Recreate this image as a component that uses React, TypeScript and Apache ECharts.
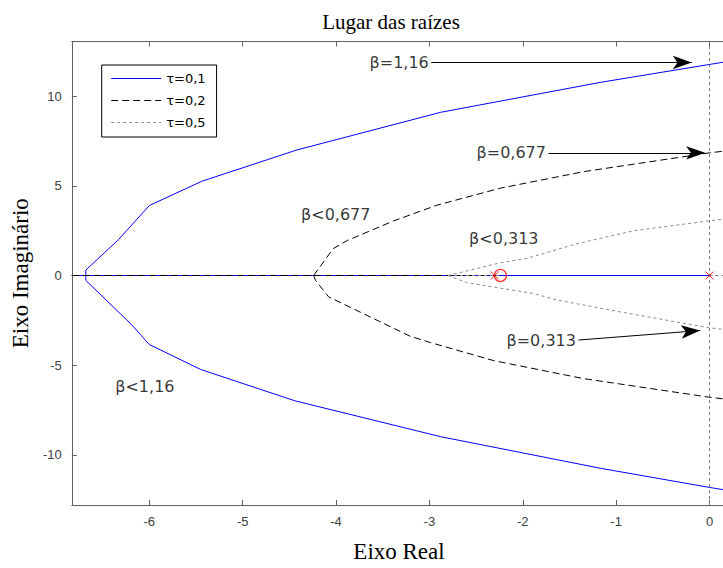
import React, { useEffect, useRef } from "react";
import * as echarts from "echarts";

// ---- data ----
const xTicks = [-6, -5, -4, -3, -2, -1, 0];
const yTicks = [-10, -5, 0, 5, 10];
const xRange = [-6.83, 0.5];
const yRange = [-12.8, 13.05];

const seriesNames = ["τ=0,1", "τ=0,2", "τ=0,5"];

// τ = 0,1 (blue, solid)
const tau1Real = [[-6.83, 0], [0, 0]];
const tau1Upper = [[-6.68, 0], [-6.68, 0.3], [-6.33, 2.0], [-6.0, 3.9], [-5.44, 5.25], [-4.42, 7.0], [-2.88, 9.1], [-1.17, 10.77], [0, 11.77], [0.5, 12.2]];
const tau1Lower = [[-6.68, 0], [-6.68, -0.27], [-6.19, -2.74], [-6.0, -3.85], [-5.45, -5.24], [-4.44, -6.99], [-2.88, -8.99], [-1.17, -10.75], [0, -11.82], [0.5, -12.25]];

// τ = 0,2 (black, dashed)
const tau2Real = [[-6.83, 0], [-2.25, 0]];
const tau2Upper = [[-4.24, 0], [-4.03, 1.5], [-3.88, 1.95], [-3.38, 3.05], [-2.92, 3.92], [-2.24, 4.87], [-1.35, 5.79], [0, 6.84], [0.5, 7.15]];
const tau2Lower = [[-4.24, 0], [-4.22, -0.27], [-4.08, -1.19], [-3.21, -3.38], [-2.99, -3.74], [-2.31, -4.75], [-1.35, -5.75], [0, -6.79], [0.5, -7.1]];

// τ = 0,5 (gray, dotted)
const tau5Real = [[-2.8, 0], [-2.25, 0]];
const tau5Upper = [[-2.8, 0], [-2.24, 0.71], [-1.96, 0.95], [-1.42, 1.77], [-0.81, 2.5], [0, 3.05], [0.5, 3.35]];
const tau5Lower = [[-2.8, 0], [-2.6, -0.4], [-1.89, -1.0], [-1.63, -1.37], [-0.99, -2.0], [0, -2.92], [0.5, -3.2]];

// reference lines through the origin
const zeroLineH = [[0, 0], [0.5, 0]];
const zeroLineV = [[0, -12.8], [0, 13.05]];

// poles (x) and zeros (o)
const poles = [[0, 0], [-2.3, 0]];
const zeros = [[-2.24, 0]];

// annotations
const arrowTexts = ["β=1,16", "β=0,677", "β=0,313"];
const arrowStarts = [[-2.98, 11.88], [-1.725, 6.84], [-1.404, -3.6]];
const arrowEnds = [[-0.19, 11.88], [-0.047, 6.84], [-0.1, -3.07]];
const freeTexts = ["β<0,677", "β<0,313", "β<1,16"];
const freePos = [[-4.38, 3.41], [-2.58, 2.04], [-6.37, -6.2]];

const COLORS = ["#0000ff", "#000000", "#8a8a8a"];
const DASHES: any[] = ["solid", [7, 4], [3, 3]];

function lineSeries(name: string, data: number[][], color: string, type: any, z: number) {
  return {
    type: "line",
    name,
    data,
    symbol: "none",
    showSymbol: false,
    silent: true,
    z,
    lineStyle: { color, width: 1, type },
    itemStyle: { color, opacity: 0 },
    clip: true,
  };
}

export default function App() {
  const ref = useRef<HTMLDivElement>(null);
  useEffect(() => {
    if (!ref.current) return;
    const chart = echarts.init(ref.current, undefined, { renderer: "svg" });
    const axisColor = "#606060";
    const labelFont = { fontFamily: "Liberation Sans", fontSize: 13, color: "#404040" };

    const groups = [
      [tau1Real, tau1Upper, tau1Lower],
      [tau2Real, tau2Upper, tau2Lower],
      [tau5Real, tau5Upper, tau5Lower],
    ];
    const curveSeries: any[] = [];
    groups.forEach((g, i) => {
      g.forEach((d) => curveSeries.push(lineSeries(seriesNames[i], d, COLORS[i], DASHES[i], 3 + i)));
    });

    const option: any = {
      animation: false,
      backgroundColor: "#ffffff",
      title: {
        text: "Lugar das raízes",
        left: 386,
        top: 6,
        textAlign: "center",
        textStyle: { fontFamily: "Liberation Serif", fontSize: 21, fontWeight: "normal", color: "#000" },
      },
      legend: {
        data: seriesNames,
        orient: "vertical",
        left: 101.7,
        top: 65,
        padding: [7, 11, 8, 9],
        itemWidth: 50,
        itemHeight: 14,
        itemGap: 9,
        borderColor: "#000",
        borderWidth: 1,
        backgroundColor: "#fff",
        selectedMode: false,
        itemStyle: { opacity: 0 },
        lineStyle: { width: 1 },
        textStyle: { fontFamily: "DejaVu Sans", fontSize: 13, color: "#000" },
        z: 10,
      },
      grid: { left: 71.8, right: 43.8, top: 41.5, bottom: 55.03 },
      xAxis: [
        {
          type: "value",
          min: xRange[0],
          max: xRange[1],
          position: "bottom",
          name: "Eixo Real",
          nameLocation: "middle",
          nameGap: 35,
          nameTextStyle: { fontFamily: "Liberation Serif", fontSize: 23, color: "#000", padding: [0, 30, 0, 0] },
          axisLine: { show: true, onZero: false, lineStyle: { color: axisColor } },
          axisTick: { show: true, inside: true, length: 5, customValues: xTicks, lineStyle: { color: axisColor } },
          axisLabel: { show: true, margin: 10, customValues: xTicks, ...labelFont },
          splitLine: { show: false },
        },
        {
          type: "value",
          min: xRange[0],
          max: xRange[1],
          position: "top",
          axisLine: { show: true, onZero: false, lineStyle: { color: axisColor } },
          axisTick: { show: true, inside: true, length: 5, customValues: xTicks, lineStyle: { color: axisColor } },
          axisLabel: { show: false },
          splitLine: { show: false },
        },
      ],
      yAxis: [
        {
          type: "value",
          min: yRange[0],
          max: yRange[1],
          position: "left",
          name: "Eixo Imaginário",
          nameLocation: "middle",
          nameGap: 36,
          nameRotate: 90,
          nameTextStyle: { fontFamily: "Liberation Serif", fontSize: 23, color: "#000" },
          axisLine: { show: true, onZero: false, lineStyle: { color: axisColor } },
          axisTick: { show: true, inside: true, length: 5, customValues: yTicks, lineStyle: { color: axisColor } },
          axisLabel: { show: true, margin: 10, customValues: yTicks, ...labelFont },
          splitLine: { show: false },
        },
      ],
      series: [
        lineSeries("zeroH", zeroLineH, "#7a7a7a", [3, 3], 1),
        lineSeries("zeroV", zeroLineV, "#7a7a7a", [3, 3], 1),
        ...curveSeries,
        {
          type: "scatter",
          name: "poles",
          data: poles,
          symbol: "path://M0,0L10,10M10,0L0,10",
          symbolSize: 8,
          silent: true,
          z: 8,
          itemStyle: { color: "none", borderColor: "#ff0000", borderWidth: 1 },
        },
        {
          type: "scatter",
          name: "zeros",
          data: zeros,
          symbol: "circle",
          symbolSize: 12,
          silent: true,
          z: 8,
          itemStyle: { color: "none", borderColor: "#ff0000", borderWidth: 1.3 },
        },
        {
          type: "scatter",
          name: "annotations",
          silent: true,
          z: 9,
          symbolSize: 1,
          itemStyle: { color: "transparent" },
          data: [
            ...arrowTexts.map((t, i) => ({
              name: t,
              value: arrowStarts[i],
              label: { position: "left", distance: 2 },
            })),
            ...freeTexts.map((t, i) => ({
              name: t,
              value: freePos[i],
              label: { position: "right", distance: 0 },
            })),
          ],
          label: {
            show: true,
            formatter: "{b}",
            fontFamily: "DejaVu Sans",
            fontSize: 16,
            color: "#000",
          },
          markLine: {
            silent: true,
            symbol: ["none", "arrow"],
            symbolSize: [10, 19],
            label: { show: false },
            lineStyle: { color: "#000", width: 1, type: "solid" },
            emphasis: { disabled: true },
            data: arrowStarts.map((s, i) => [{ coord: s }, { coord: arrowEnds[i] }]),
          },
        },
      ],
    };
    chart.setOption(option);
    return () => chart.dispose();
  }, []);

  return (
    <div style={{ position: "fixed", left: 0, top: 0, width: 723, height: 568, overflow: "hidden", background: "#fff" }}>
      <div ref={ref} style={{ width: 800, height: 568 }} />
    </div>
  );
}
